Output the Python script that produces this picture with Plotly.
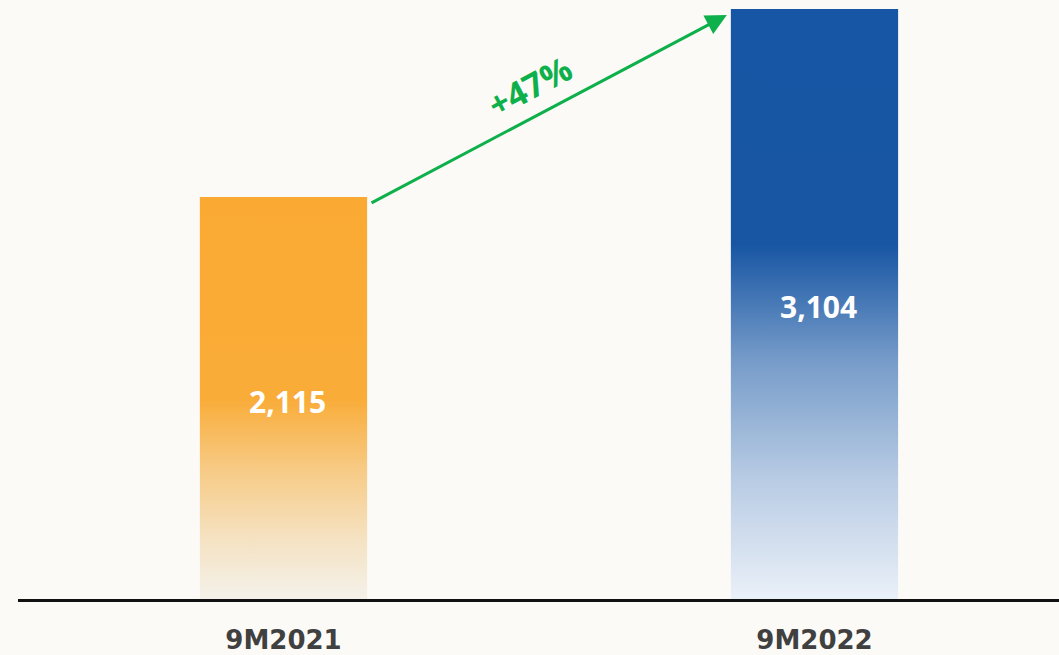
import plotly.graph_objects as go

categories = ["9M2021", "9M2022"]
values = [2115, 3104]
value_labels = ["2,115", "3,104"]
scales = [
    [[0, "#F4F1EA"], [0.15, "#F5E2C2"], [0.32, "#F7CB86"], [0.5, "#F9AC38"], [1, "#FAAA33"]],
    [[0, "#EAF0F8"], [0.2, "#B9CCE4"], [0.4, "#789DCA"], [0.6, "#1856A3"], [1, "#1656A4"]],
]
bar_width = 0.315

fig = go.Figure()
for i, (cat, v) in enumerate(zip(categories, values)):
    x0, x1 = i - bar_width / 2, i + bar_width / 2
    fig.add_trace(go.Scatter(
        x=[x0, x1, x1, x0, x0], y=[0, 0, v, v, 0],
        mode="lines", line=dict(width=0), fill="toself",
        fillgradient=dict(type="vertical", colorscale=scales[i]),
        hoverinfo="skip", showlegend=False,
    ))

label_y = [values[0] * 0.49, values[1] * 0.495]
for i, (lab, ly) in enumerate(zip(value_labels, label_y)):
    fig.add_annotation(x=i + 0.007, y=ly, text=lab, showarrow=False,
                       font=dict(family="Open Sans", size=30, color="white", weight="bold"))

growth = round((values[1] / values[0] - 1) * 100)
fig.add_annotation(x=0.835, y=values[1] - 32, ax=0.163, ay=values[0] - 35,
                   xref="x", yref="y", axref="x", ayref="y", text="",
                   showarrow=True, arrowhead=2, arrowsize=1.4, arrowwidth=3,
                   arrowcolor="#0DB04B")
fig.add_annotation(x=0.464, y=2700, text=f"+{growth}%", showarrow=False,
                   textangle=-28,
                   font=dict(family="Open Sans", size=34, color="#0DB04B", weight="bold"))

fig.update_layout(
    width=1059, height=655,
    margin=dict(l=18, r=0, t=0, b=56, autoexpand=False),
    paper_bgcolor="#FCFAF6", plot_bgcolor="rgba(0,0,0,0)",
    xaxis=dict(range=[-0.5, 1.4605], tickvals=[0, 1], ticktext=categories,
               showgrid=False, zeroline=False, showline=True, linecolor="#111111",
               linewidth=2.5, ticks="", ticklabelstandoff=16, automargin=False,
               tickfont=dict(family="DejaVu Sans", size=26, color="#404040", weight="bold")),
    yaxis=dict(range=[0, 3151], visible=False, showgrid=False, zeroline=False,
               automargin=False),
)
fig.write_html("out.html", config={"displayModeBar": False},
               post_script="document.body.style.margin='0';document.body.style.padding='0';document.body.style.overflow='hidden';")
